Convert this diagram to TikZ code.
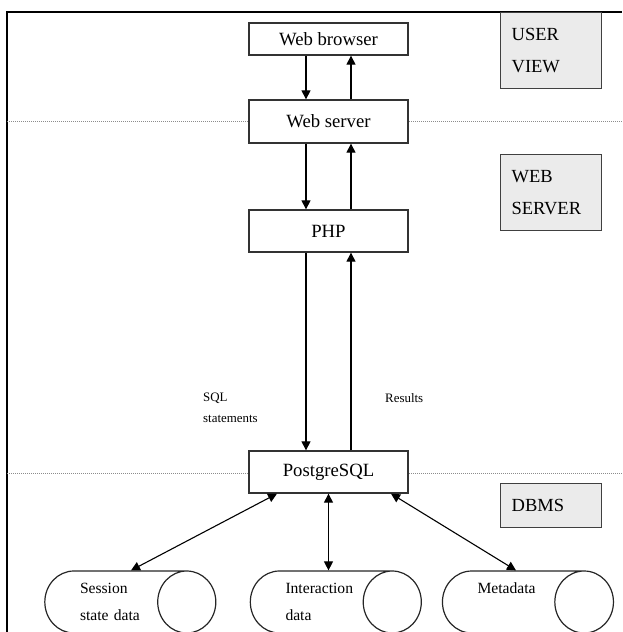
\documentclass[tikz,border=0pt]{standalone}
\usepackage{fontspec}
\setmainfont{Liberation Serif}
\usetikzlibrary{arrows.meta}
\usetikzlibrary{shapes.geometric}

\begin{document}
\begin{tikzpicture}[x=1pt, y=-1pt,
tierbox/.style={draw=black!80, line width=1.3pt, fill=white, minimum width=159pt,
  inner sep=0pt, font=\fontsize{18.7}{22}\selectfont},
tierlabel/.style={draw=black!75, line width=1.3pt, fill=black!8, anchor=north west,
  text width=79pt, inner xsep=11pt, inner ysep=0pt, align=left, font=\fontsize{18.5}{32}\selectfont},
store/.style={cylinder, draw=black!85, line width=1.2pt, fill=white, minimum width=62pt,
  minimum height=171pt, aspect=1.55, inner xsep=-15pt, inner ysep=0pt, text width=71pt,
  align=left, font=\fontsize{15.6}{27}\selectfont},
note/.style={anchor=north west, inner sep=0pt, align=left, font=\fontsize{12.9}{21}\selectfont},
flow/.style={-{Triangle[length=9pt,width=9pt]}, line width=1.1pt},
twoway/.style={{Triangle[length=9pt,width=9pt]}-{Triangle[length=9pt,width=9pt]}, line width=1.1pt},
tier/.style={black!45, line width=0.7pt, dash pattern=on 1pt off 1pt}]

\useasboundingbox (0,0) rectangle (622,632);
\clip (0,0) rectangle (622,632);
\pgfmathsetmacro{\gap}{22.5}

% FRAME AND TIER LINES
\draw[line width=1.5pt] (7,632) -- (7,12) -- (622,12);
\draw[tier] (7,121) -- (622,121);
\draw[tier] (7,473) -- (622,473);

% main boxes
\node[tierbox, minimum height=32pt] (browser) at (328.5,39) {Web browser};
\node[tierbox, minimum height=43pt] (webserver) at (328.5,121.5) {Web server};
\node[tierbox, minimum height=42pt] (php) at (328.5,231) {PHP};
\node[tierbox, minimum height=42pt] (pgsql) at (328.5,472) {PostgreSQL};

% tier names
\node[tierlabel, minimum height=76pt] (userview) at (500,12) {USER\\VIEW};
\node[tierlabel, minimum height=76pt] (webtier) at (500,154) {WEB\\SERVER};
\node[tierlabel, minimum height=44pt] (dbms) at (500,483) {DBMS};

% requests down, answers up
\foreach \a/\b in {browser/webserver, webserver/php, php/pgsql}{
    \draw[flow] ([xshift=-\gap]\a.south) -- ([xshift=-\gap]\b.north);
    \draw[flow] ([xshift=\gap]\b.north) -- ([xshift=\gap]\a.south);
}
\node[note] (sql) at (203,393) {SQL\\statements};
\node[note] (results) at (385,393) {Results};

% data stores
\node[store] (session) at (115.5,602) {Session\\state data};
\node[store] (interaction) at (321,602) {Interaction\\data};
\node[store] (metadata) at (513,602) {Metadata\\\mbox{}};

\draw[twoway] ([xshift=-51.5pt]pgsql.south) -- ([xshift=15.5pt]session.north);
\draw[twoway] (pgsql.south) -- (pgsql.south |- interaction.north);
\draw[twoway] ([xshift=62.5pt]pgsql.south) -- ([xshift=3pt]metadata.north);

\end{tikzpicture}
\end{document}
